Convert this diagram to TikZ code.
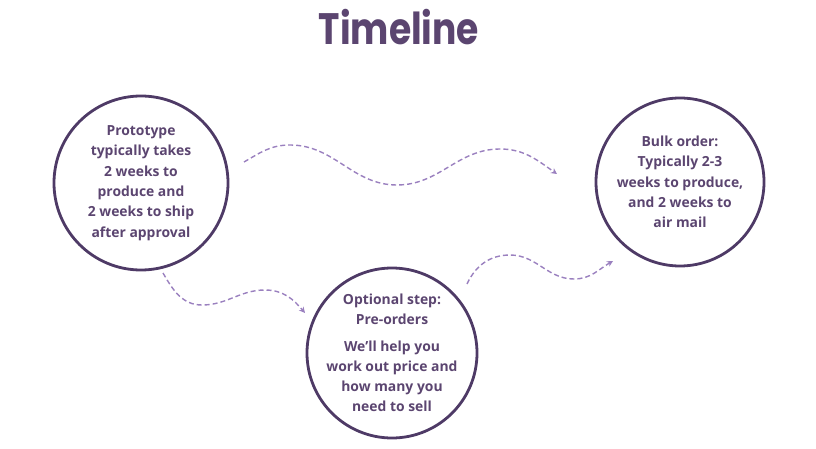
\documentclass[tikz,border=0pt]{standalone}
\usepackage{fontspec}
\setmainfont{Open Sans}
\newfontfamily\titlefont{Poppins}
\usetikzlibrary{arrows.meta}
\definecolor{plum}{HTML}{5B4570}
\definecolor{plumline}{HTML}{4E3A66}
\definecolor{lilac}{HTML}{9A80BF}
\tikzset{
  stage/.style={text=plum, inner sep=0pt, align=center,
    font=\bfseries\fontsize{13.9}{20.3}\selectfont},
  ring/.style={draw=plumline, line width=2.8pt},
  wave/.style={draw=lilac, line width=1.4pt, dash pattern=on 5pt off 3pt,
    -{Stealth[length=6pt,width=6pt]}}
}
\begin{document}
\begin{tikzpicture}[x=1pt, y=-1pt]
      \useasboundingbox (0,0) rectangle (816,449);
      \begin{scope}
        \node (title) at (399,27) {\titlefont\bfseries\color{plum}%
          \scalebox{0.82}[1]{\fontsize{44}{44}\selectfont Timeline}};
        \node[stage] (proto) at (141,183)
        {Prototype\\ typically takes\\ 2 weeks to\\ produce and\\
          2 weeks to ship\\ after approval};
        \node[stage] (pre) at (392,353)
        {Optional step:\\ Pre-orders\\[6pt] We’ll help you\\ work out
          price and\\ how many you\\ need to sell};
        \node[stage] (bulk) at (680,182)
        {Bulk order:\\ Typically 2-3\\ weeks to produce,\\ and 2 weeks
          to\\ air mail};
      \end{scope}

      \begin{scope}[ring]
        \draw (proto.center) circle [radius=87pt];
        \draw (pre.center) circle [radius=85pt];
        \draw (bulk.center) circle [radius=84pt];
      \end{scope}

      \begin{scope}
        \coordinate (a0) at (244,162); \coordinate (a1) at (290,145);
        \coordinate (a2) at (397,185); \coordinate (a3) at (500,149);
        \coordinate (a4) at (557,174);
        \coordinate (b0) at (163,273); \coordinate (b1) at (202,305);
        \coordinate (b2) at (265,290); \coordinate (b3) at (305,313);
        \coordinate (c0) at (467,284); \coordinate (c1) at (510,255);
        \coordinate (c2) at (574,279); \coordinate (c3) at (613,261);
      \end{scope}

      \begin{scope}
        \draw[wave] (a0) to [out=30, in=180] (a1) to [out=0, in=180]
        (a2) to [out=0, in=180] (a3) to [out=0, in=145] (a4);
        \draw[wave] (b0) to [out=-60, in=180] (b1) to [out=0, in=180]
        (b2) to [out=0, in=130] (b3);
        \draw[wave] (c0) to [out=65, in=180] (c1) to [out=0, in=180]
        (c2) to [out=0, in=-150] (c3);
      \end{scope}
    \end{tikzpicture}
\end{document}
